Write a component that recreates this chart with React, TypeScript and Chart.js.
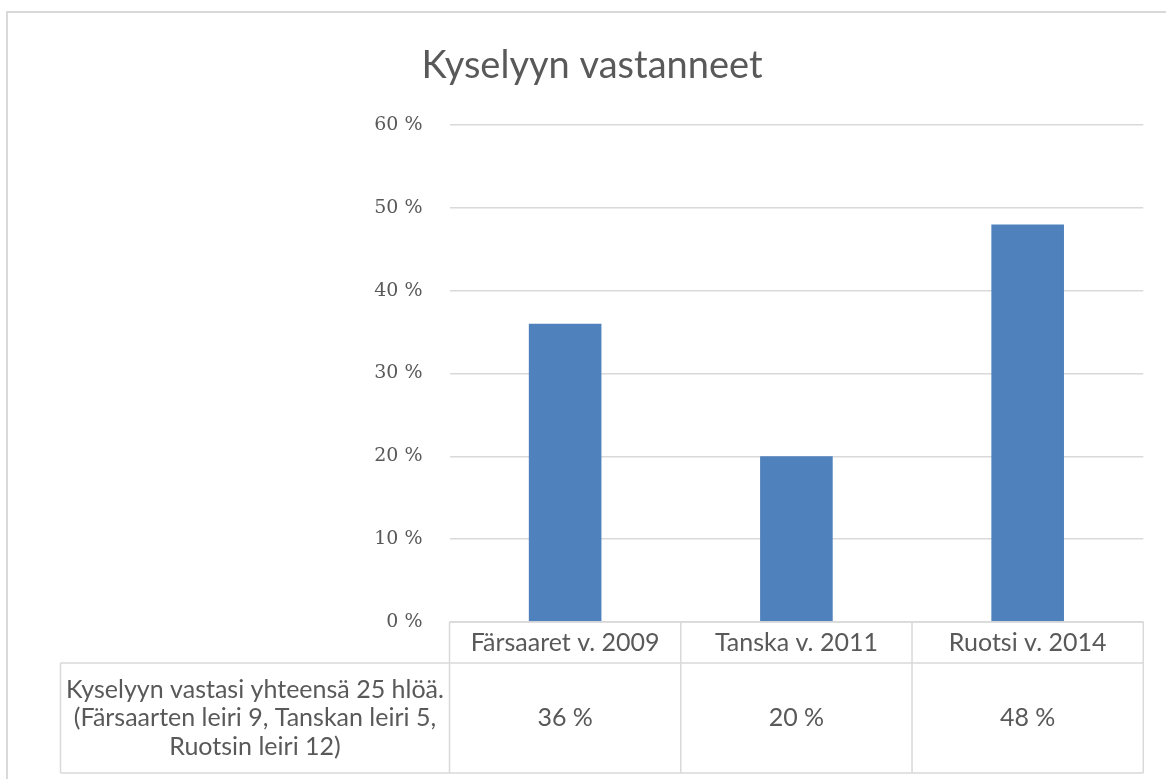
import React, { useEffect, useRef } from "react";
import { Chart, registerables } from "chart.js";

Chart.register(...registerables);

const title = "Kyselyyn vastanneet";
const categories = ["Färsaaret v. 2009", "Tanska v. 2011", "Ruotsi v. 2014"];
const values = [0.36, 0.2, 0.48];
const rowHeaderLines = [
  "Kyselyyn vastasi yhteensä 25 hlöä.",
  "(Färsaarten leiri 9, Tanskan leiri 5,",
  "Ruotsin leiri 12)",
];
const yTicks = [0, 0.1, 0.2, 0.3, 0.4, 0.5, 0.6];

const fmt = (v: number) => `${Math.round(v * 100)} %`;

const GRID = "#d9d9d9";
const TEXT = "#595959";
const SANS = "Lato, 'Noto Sans', sans-serif";

const decorPlugin = {
  id: "decor",
  beforeDraw(chart: any) {
    const { ctx, width, height } = chart;
    ctx.save();
    ctx.fillStyle = "#ffffff";
    ctx.fillRect(0, 0, width, height);
    ctx.strokeStyle = GRID;
    ctx.lineWidth = 2;
    ctx.strokeRect(7, 12, width + 20, height + 20);
    ctx.fillStyle = TEXT;
    ctx.font = `38px ${SANS}`;
    ctx.textAlign = "center";
    ctx.textBaseline = "alphabetic";
    ctx.fillText(title, 592, 78);
    ctx.restore();
  },
  afterDraw(chart: any) {
    const { ctx, chartArea, scales } = chart;
    const xs = scales.x;
    const left = chartArea.left;
    const right = chartArea.right;
    const top = chartArea.bottom;
    const headerBottom = top + 41;
    const bottom = headerBottom + 110;
    const rowLeft = 60.5;
    const centers = categories.map((_, i) => xs.getPixelForValue(i));
    const bounds = [left];
    for (let i = 0; i < centers.length - 1; i++) bounds.push((centers[i] + centers[i + 1]) / 2);
    bounds.push(right);

    ctx.save();
    ctx.strokeStyle = GRID;
    ctx.lineWidth = 1.5;
    const line = (x1: number, y1: number, x2: number, y2: number) => {
      ctx.beginPath();
      ctx.moveTo(x1, y1);
      ctx.lineTo(x2, y2);
      ctx.stroke();
    };
    line(left, top, right, top);
    line(rowLeft, headerBottom, right, headerBottom);
    line(rowLeft, bottom, right, bottom);
    line(rowLeft, headerBottom, rowLeft, bottom);
    bounds.forEach((b) => line(b, top, b, bottom));

    ctx.fillStyle = TEXT;
    ctx.font = `25px ${SANS}`;
    ctx.textAlign = "center";
    ctx.textBaseline = "middle";
    const hy = (top + headerBottom) / 2;
    const dy = (headerBottom + bottom) / 2;
    categories.forEach((c, i) => {
      ctx.fillText(c, centers[i], hy);
      ctx.fillText(fmt(values[i]), centers[i], dy);
    });
    const rx = (rowLeft + left) / 2;
    rowHeaderLines.forEach((t, i) => {
      ctx.fillText(t, rx, dy + (i - 1) * 28.5);
    });
    ctx.restore();
  },
};

export default function App() {
  const ref = useRef<HTMLCanvasElement | null>(null);
  useEffect(() => {
    if (!ref.current) return;
    const chart = new Chart(ref.current, {
      type: "bar",
      data: {
        labels: categories,
        datasets: [
          {
            data: values,
            backgroundColor: "#4f81bd",
            categoryPercentage: 1,
            barPercentage: 0.314,
          },
        ],
      },
      options: {
        responsive: false,
        animation: false,
        layout: { padding: { left: 0, right: 22.7, top: 125, bottom: 157 } },
        plugins: { legend: { display: false }, tooltip: { enabled: false }, title: { display: false } },
        scales: {
          x: { display: false, offset: true },
          y: {
            min: 0,
            max: 0.6,
            afterFit: (s: any) => {
              s.width = 449.5;
            },
            afterBuildTicks: (s: any) => {
              s.ticks = yTicks.map((v) => ({ value: v }));
            },
            border: { display: false },
            grid: { color: GRID, lineWidth: 1.5, drawTicks: false },
            ticks: {
              padding: 27,
              color: TEXT,
              font: { family: "'DejaVu Serif', serif", size: 19 },
              callback: (v: any) => fmt(Number(v)),
            },
          },
        },
      },
      plugins: [decorPlugin],
    });
    return () => chart.destroy();
  }, []);
  return (
    <div style={{ position: "fixed", left: 0, top: 0, width: 1166, height: 779, background: "#fff" }}>
      <canvas ref={ref} width={1166} height={779} />
    </div>
  );
}
